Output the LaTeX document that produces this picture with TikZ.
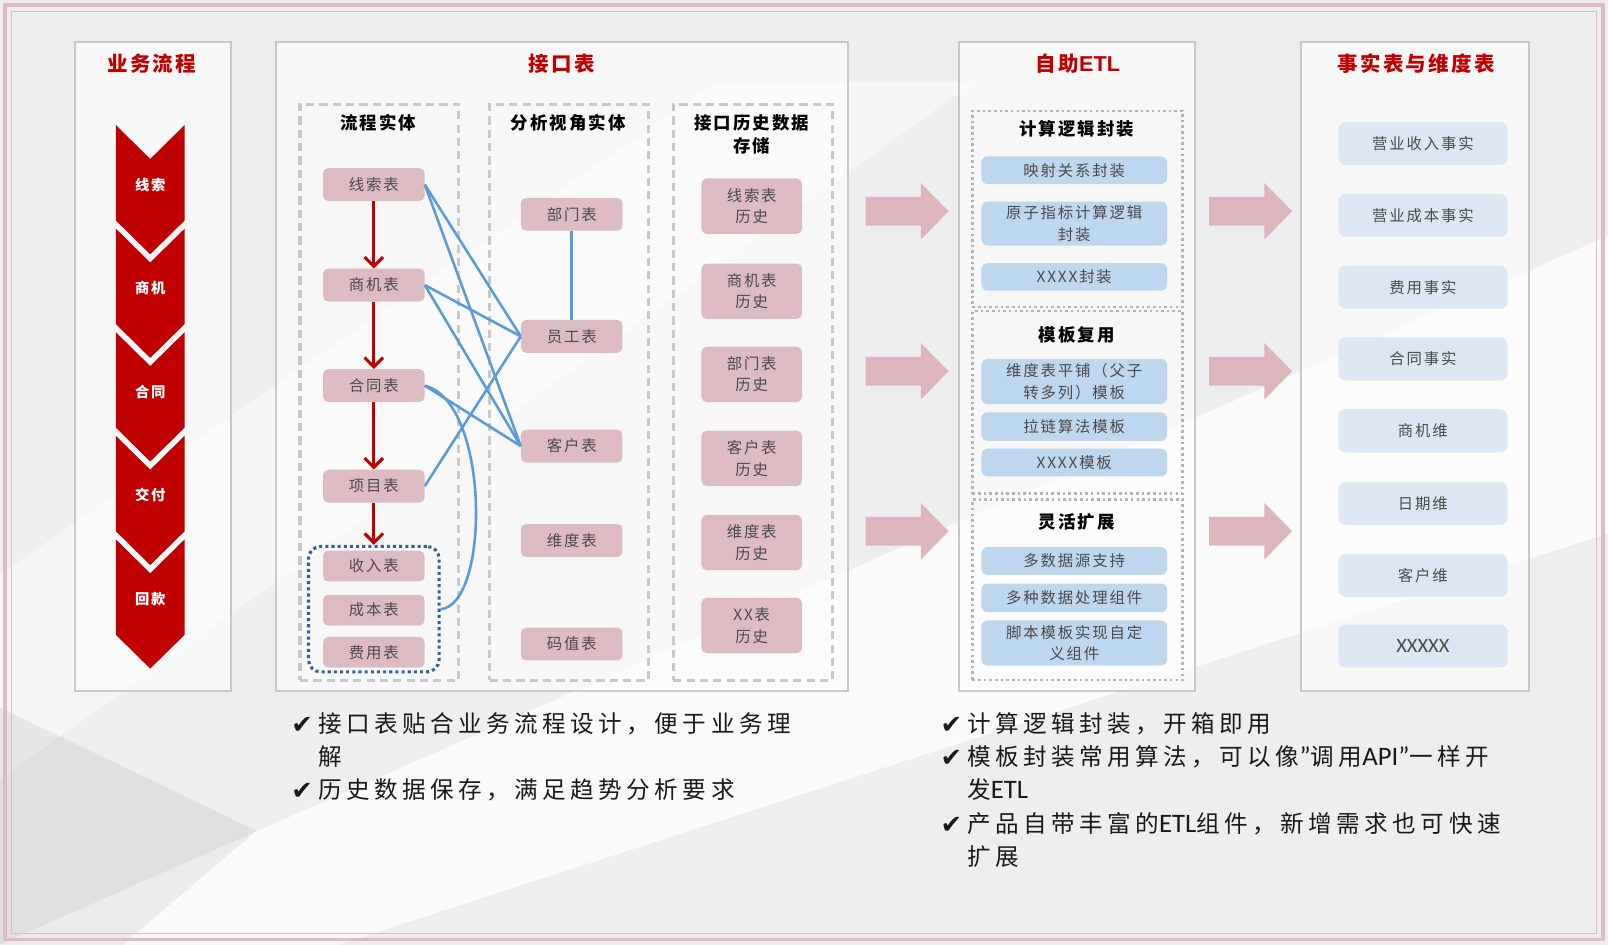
\documentclass[tikz,border=0pt]{standalone}
\usepackage{fontspec}
\setmainfont{Noto Sans CJK SC}[LetterSpace=12]
\newfontfamily\cjkbig{Noto Sans CJK SC}[LetterSpace=19]
\newfontfamily\sym{DejaVu Sans}
\newfontfamily\lat{Carlito}
\newfontfamily\latb{Liberation Sans}
\usetikzlibrary{arrows.meta,fit}
\definecolor{bgc}{HTML}{EEEEF1}
\definecolor{redc}{HTML}{C00000}
\definecolor{pinkn}{HTML}{DCBCC2}
\definecolor{pinkb}{HTML}{E2BAC2}
\definecolor{arrp}{HTML}{DDB5BC}
\definecolor{blu}{HTML}{5B9BD5}
\definecolor{grpblue}{HTML}{35608C}
\definecolor{etlb}{HTML}{BDD7EE}
\definecolor{factb}{HTML}{DCE7F3}
\definecolor{pgray}{HTML}{C8C8C8}
\definecolor{tgray}{HTML}{4A4A4A}
\newcommand{\chk}{\raisebox{-1pt}{\sym\fontsize{25}{24}\selectfont ✔}}
\newcommand{\lt}[1]{{\lat\fontsize{26}{30}\selectfont #1}}
\begin{document}
\begin{tikzpicture}[x=1pt,y=-1pt,
  panel/.style={draw=pgray,line width=2pt,fill=white,fill opacity=0.55,text opacity=1,anchor=north west,inner sep=0pt},
  subpanel/.style={draw=pgray,line width=3pt,dash pattern=on 8pt off 5pt,anchor=north west,inner sep=0pt},
  etlbox/.style={draw=pgray!90!black,line width=2.5pt,dash pattern=on 2.5pt off 3pt,anchor=north west,inner sep=0pt},
  ptitle/.style={text=redc,font=\fontsize{20}{24}\selectfont\bfseries},
  stitle/.style={text=black,font=\fontsize{17}{23}\selectfont\bfseries,align=center},
  chtext/.style={text=white,font=\fontsize{14}{16}\selectfont\bfseries},
  pnode/.style={fill=pinkn,rounded corners=5pt,minimum width=99pt,minimum height=32pt,inner sep=0pt,text=tgray,font=\fontsize{15}{21}\selectfont,align=center},
  hnode/.style={pnode,minimum width=98pt,minimum height=54pt},
  bnode/.style={fill=etlb,rounded corners=6pt,minimum width=181pt,minimum height=27pt,inner sep=0pt,text=tgray,font=\fontsize{15}{21}\selectfont,align=center},
  fnode/.style={fill=factb,rounded corners=7pt,minimum width=165pt,minimum height=42pt,inner sep=0pt,text=tgray,font=\fontsize{15}{21}\selectfont},
  redarr/.style={draw=redc,line width=3pt,-{Straight Barb[length=9pt,width=18pt]}},
  blueln/.style={draw=blu,line width=2.5pt},
  grpbox/.style={draw=grpblue,line width=3pt,dash pattern=on 3pt off 3pt,rounded corners=12pt,inner xsep=14pt,inner ysep=4pt},
  bigarr/.style={fill=arrp},
  bullet/.style={anchor=north west,inner sep=0pt,font=\cjkbig\fontsize{23}{32.5}\selectfont,text=black!90}
]
\useasboundingbox (0,0) rectangle (1568,921);
% background
\fill[bgc] (0,0) rectangle (1568,921);
\fill[white,opacity=0.75] (0,921) -- (1568,230) -- (1568,520) -- (330,921) -- cycle;
\fill[white,opacity=0.45] (0,560) -- (700,80) -- (950,80) -- (0,760) -- cycle;
\fill[black,opacity=0.06] (0,690) -- (250,810) -- (120,921) -- (0,921) -- cycle;
% outer frame
\draw[pinkb,line width=3.5pt] (5,5) rectangle (1563,916);
\draw[pinkb,line width=1pt] (11,11) rectangle (1557,910);

% panels
\node[panel,minimum width=152pt,minimum height=633pt] (p1) at (72,40) {};
\node[panel,minimum width=558pt,minimum height=633pt] (p2) at (268,40) {};
\node[panel,minimum width=230pt,minimum height=633pt] (p3) at (934,40) {};
\node[panel,minimum width=222pt,minimum height=633pt] (p4) at (1268,40) {};
\node[ptitle] (t1) at (148,62) {业务流程};
\node[ptitle] (t2) at (548,62) {接口表};
\node[ptitle] (t3) at (1051,62) {自助{\latb\bfseries\fontsize{21}{24}\selectfont ETL}};
\node[ptitle] (t4) at (1381,62) {事实表与维度表};

% chevrons
\foreach \i/\lab in {0/线索,1/商机,2/合同,3/交付,4/回款}{
  \pgfmathsetmacro\ya{122+101*\i}
  \fill[redc] (113,\ya) -- (146.5,\ya+33) -- (180,\ya) -- (180,\ya+93) -- (146.5,\ya+126) -- (113,\ya+93) -- cycle;
  \node[chtext] (ch\i) at (146.5,\ya+58) {\lab};
}

% sub panels
\node[subpanel,minimum width=155pt,minimum height=562pt] (s1) at (291,100) {};
\node[subpanel,minimum width=155pt,minimum height=562pt] (s2) at (476,100) {};
\node[subpanel,minimum width=155pt,minimum height=562pt] (s3) at (655,100) {};
\node[stitle] (s1t) at (369,120) {流程实体};
\node[stitle] (s2t) at (554,120) {分析视角实体};
\node[stitle] (s3t) at (733,131) {接口历史数据\\存储};

% process entities
\node[pnode] (xs) at (364.5,180) {线索表};
\node[pnode] (sj) at (364.5,278) {商机表};
\node[pnode] (ht) at (364.5,376) {合同表};
\node[pnode] (xm) at (364.5,474) {项目表};
\node[pnode,minimum height=30pt] (sr) at (364.5,552) {收入表};
\node[pnode,minimum height=30pt] (cb) at (364.5,595) {成本表};
\node[pnode,minimum height=30pt] (fy) at (364.5,636) {费用表};
\node[grpbox,fit=(sr)(cb)(fy)] (grp) {};

% analysis entities
\node[pnode] (bm) at (557.5,209) {部门表};
\node[pnode] (yg) at (557.5,328) {员工表};
\node[pnode] (kh) at (557.5,435) {客户表};
\node[pnode] (wd) at (557.5,527) {维度表};
\node[pnode] (mz) at (557.5,628) {码值表};

% history
\node[hnode] (h1) at (733,201) {线索表\\历史};
\node[hnode] (h2) at (733,284) {商机表\\历史};
\node[hnode] (h3) at (733,365) {部门表\\历史};
\node[hnode] (h4) at (733,447) {客户表\\历史};
\node[hnode] (h5) at (733,529) {维度表\\历史};
\node[hnode] (h6) at (733,610) {XX表\\历史};

% red flow arrows
\draw[redarr] (xs.south) -- (sj.north);
\draw[redarr] (sj.south) -- (ht.north);
\draw[redarr] (ht.south) -- (xm.north);
\draw[redarr] (xm.south) -- (grp.north);

% blue relations
\draw[blueln] (xs.east) -- (yg.west);
\draw[blueln] (xs.east) -- (kh.west);
\draw[blueln] (sj.east) -- (yg.west);
\draw[blueln] (sj.east) -- (kh.west);
\draw[blueln] (ht.east) -- (kh.west);
\draw[blueln] (xm.east) -- (yg.west);
\draw[blueln] (bm.south) -- (yg.north);
\draw[blueln] (ht.east) .. controls (478,392) and (478,590) .. (grp.east);

% big arrows
\foreach \y in {206,362,518}{
  \foreach \dx in {0,335}{
    \fill[bigarr] (844+\dx,\y-14) -- (898+\dx,\y-14) -- (898+\dx,\y-27.5) -- (925+\dx,\y) -- (898+\dx,\y+27.5) -- (898+\dx,\y+14) -- (844+\dx,\y+14) -- cycle;
  }
}

% ETL
\node[etlbox,minimum width=205pt,minimum height=191pt] (ea) at (947,107) {};
\node[etlbox,minimum width=205pt,minimum height=178pt] (eb) at (947,302) {};
\node[etlbox,minimum width=205pt,minimum height=176pt] (ec) at (947,486) {};
\node[stitle] (eat) at (1050,126) {计算逻辑封装};
\node[stitle] (ebt) at (1050,327) {模板复用};
\node[stitle] (ect) at (1050,509) {灵活扩展};
\node[bnode] (e1) at (1047.5,166) {映射关系封装};
\node[bnode,minimum height=43pt] (e2) at (1047.5,218) {原子指标计算逻辑\\封装};
\node[bnode] (e3) at (1047.5,270) {XXXX封装};
\node[bnode,minimum height=44pt] (e4) at (1047.5,372) {维度表平铺（父子\\转多列）模板};
\node[bnode,minimum height=28pt] (e5) at (1047.5,416) {拉链算法模板};
\node[bnode] (e6) at (1047.5,451) {XXXX模板};
\node[bnode] (e7) at (1047.5,547) {多数据源支持};
\node[bnode,minimum height=28pt] (e8) at (1047.5,583) {多种数据处理组件};
\node[bnode,minimum height=44pt] (e9) at (1047.5,627) {脚本模板实现自定\\义组件};

% facts
\node[fnode] (f1) at (1387.5,140) {营业收入事实};
\node[fnode] (f2) at (1387.5,210) {营业成本事实};
\node[fnode] (f3) at (1387.5,280) {费用事实};
\node[fnode] (f4) at (1387.5,350) {合同事实};
\node[fnode] (f5) at (1387.5,420) {商机维};
\node[fnode] (f6) at (1387.5,491) {日期维};
\node[fnode] (f7) at (1387.5,561) {客户维};
\node[fnode,font=\lat\fontsize{20}{24}\selectfont] (f8) at (1387.5,630) {XXXXX};

% bottom notes
\node[bullet] (nl) at (284,691) {\begin{tabular}{@{}l@{\hspace{5pt}}l@{}}
\chk & 接口表贴合业务流程设计，便于业务理\\
 & 解\\
\chk & 历史数据保存，满足趋势分析要求
\end{tabular}};
\node[bullet] (nr) at (917,691) {\begin{tabular}{@{}l@{\hspace{5pt}}l@{}}
\chk & 计算逻辑封装，开箱即用\\
\chk & 模板封装常用算法，可以像\lt{”}调用\lt{API”}一样开\\
 & 发\lt{ETL}\\
\chk & 产品自带丰富的\lt{ETL}组件，新增需求也可快速\\
 & 扩展
\end{tabular}};
\end{tikzpicture}
\end{document}
